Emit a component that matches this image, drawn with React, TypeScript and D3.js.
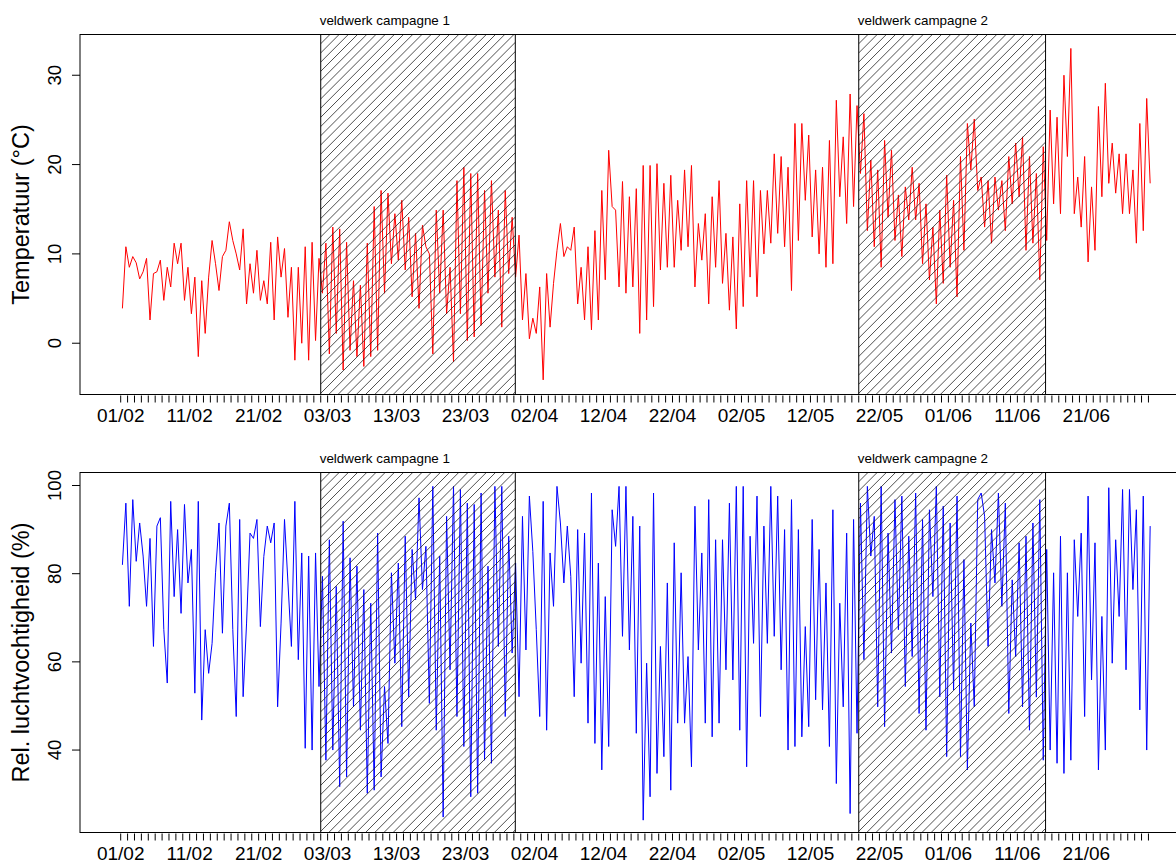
import * as d3 from "d3";

// half-daily readings (06:00 and 18:00) starting 01/02
const DAY = 86400000;
const startDate = Date.UTC(2019, 1, 1);

const tempFeb = [
  3.9, 10.8, 8.5, 9.7, 9.0, 7.2, 8.0, 9.5, 2.6, 7.8, 8.0, 9.3, 4.8, 8.5, 6.3, 11.2,
  8.9, 11.2, 4.8, 8.5, 3.3, 7.4, -1.5, 7.0, 1.1, 7.4, 11.5, 8.9, 5.9, 9.7, 10.4, 13.6,
  11.5, 10.0, 8.2, 12.8, 4.4, 8.9, 5.6, 10.4, 4.8, 7.0, 4.4, 11.3, 2.6, 11.9, 7.4, 10.6,
  2.9, 8.5, -1.9, 8.5, 0.0, 10.8, -1.9, 11.3,
];
const tempMar = [
  0.3, 9.5, 5.6, 11.2, -1.2, 13.0, 1.1, 12.8, -3.0, 11.3, -0.8, 7.0, -1.5, 6.5, -2.6, 11.2,
  -1.5, 15.3, -0.8, 17.1, 5.6, 16.8, 8.9, 14.5, 9.3, 16.0, 8.2, 14.1, 5.2, 12.3, 3.9, 13.2,
  10.8, 10.0, -1.2, 14.9, 5.6, 14.9, 3.3, 8.5, -2.1, 18.2, 3.3, 19.7, 0.3, 19.0, 0.7, 19.0,
  2.0, 17.1, 5.6, 18.2, 7.4, 14.9, 1.8, 17.1, 7.8, 14.1, 7.4, 12.1, 2.6, 7.8,
];
const tempApr = [
  0.5, 2.8, 1.1, 6.3, -4.1, 7.8, 1.8, 6.7, 10.4, 13.4, 9.7, 10.8, 10.4, 13.0, 4.4, 8.5,
  2.6, 10.8, 1.5, 12.6, 2.6, 17.1, 7.1, 21.6, 15.3, 14.9, 6.3, 18.1, 5.6, 16.4, 6.3, 17.3,
  1.1, 19.9, 2.6, 19.9, 4.1, 20.1, 8.2, 17.9, 8.5, 18.8, 8.5, 16.0, 10.4, 19.4, 10.8, 19.9,
  6.3, 13.4, 9.3, 14.5, 4.4, 16.4, 8.5, 18.2, 6.7, 12.3, 3.7, 11.9,
];
const tempMay = [
  1.6, 15.6, 4.1, 18.2, 7.4, 18.2, 5.2, 17.1, 10.0, 17.1, 11.2, 21.2, 12.3, 20.9, 10.8, 19.7,
  5.9, 24.6, 11.5, 24.6, 16.0, 23.3, 11.9, 19.4, 10.0, 19.7, 8.5, 22.7, 8.9, 27.2, 16.4, 23.1,
  13.4, 27.9, 15.3, 26.6, 19.0, 25.7, 12.6, 20.5, 10.8, 19.4, 8.5, 22.7, 14.1, 21.6, 11.5, 16.6,
  9.7, 17.5, 13.8, 19.7, 13.8, 17.9, 8.9, 15.6, 7.1, 13.0, 4.4, 14.9, 6.7, 18.8,
];
const tempJun = [
  8.5, 16.0, 5.2, 20.9, 10.4, 24.6, 19.4, 25.1, 17.1, 18.6, 13.0, 18.2, 11.2, 18.6, 14.9, 18.2,
  12.6, 20.9, 15.6, 22.4, 16.4, 23.1, 10.4, 20.9, 11.2, 19.0, 7.1, 22.0, 11.5, 26.1, 15.6, 25.3,
  14.5, 30.0, 20.9, 33.0, 14.5, 18.6, 13.0, 20.9, 9.1, 17.5, 10.4, 26.5, 16.4, 29.1, 17.9, 22.4,
  16.8, 21.2, 14.5, 21.2, 14.5, 19.4, 11.2, 24.6, 12.6, 27.4, 17.9,
];

const humFeb = [
  82, 96, 72.6, 96.8, 82.8, 91.5, 84, 72.6, 88, 63.5, 90.8, 92.7, 67.3, 55.2, 96.4, 74.8,
  90, 71, 95.7, 77.9, 85.5, 52.9, 96.4, 46.8, 67.3, 57.4, 64.2, 80.2, 91.5, 66.5, 90.8, 96,
  67.3, 47.6, 92.3, 52.1, 68.8, 89.2, 88, 92.3, 68, 83.9, 90.8, 87, 91.5, 49.8, 68.8, 92.3,
  77.9, 63.5, 96.4, 60.5, 84.7, 40.4, 84, 40,
];
const humMar = [
  84.7, 54.4, 79.4, 37.7, 87.7, 40, 77.1, 31.7, 91.9, 33.9, 83.6, 49.8, 81.7, 44.5, 76.4, 30.2,
  73.3, 30.9, 89.2, 33.9, 54.4, 41.5, 80.2, 59.7, 82.4, 45.3, 88.5, 52.1, 85.5, 74.1, 97.2, 76.4,
  86.2, 50.6, 99.8, 44.5, 84, 24.8, 93, 58.2, 99.8, 47.6, 99.1, 40.8, 96, 29.4, 95.7, 30.2,
  98.3, 37.7, 81.7, 37, 99.8, 63.5, 99.8, 47.6, 88.5, 62, 82.4, 52.1, 93, 62.7,
];
const humApr = [
  97.6, 85, 67.3, 47.6, 96.4, 44.5, 84.7, 72.6, 99.8, 91.5, 77.9, 90.8, 79.4, 52.1, 90, 59.7,
  89.2, 46.1, 98.3, 41.5, 82.4, 35.5, 74.8, 40.8, 94.5, 86.2, 99.8, 65.8, 99.8, 62.7, 93, 43.8,
  90.8, 24.1, 59.7, 29.4, 98.3, 34.7, 63.5, 38.5, 77.9, 30.9, 87, 46.1, 80.2, 46.1, 61.2, 36.2,
  95.3, 62.7, 84.7, 46.1, 96.8, 43, 87.7, 46.1, 87.7, 58.2, 96, 55.9,
];
const humMay = [
  99.8, 44.5, 99.8, 36.2, 88.5, 64.2, 97.6, 47.6, 90.8, 64.2, 99.8, 65.8, 97.6, 58.2, 90, 40,
  96.8, 40.8, 90, 43, 68, 45.3, 92.3, 51.4, 85.5, 49.1, 77.9, 40.8, 94.5, 32.4, 73.3, 49.8,
  89.2, 25.6, 92.3, 43.8, 96, 60.5, 99.8, 84, 93, 49.8, 99.8, 45.3, 89.2, 62, 96.8, 67.3,
  97.6, 54.4, 88.5, 61.2, 98.3, 48.3, 92.3, 44.5, 94.5, 74.8, 99.8, 52.1, 95.3, 38.5,
];
const humJun = [
  91.5, 53.6, 97.6, 38.5, 83.2, 35.5, 68.8, 49.8, 96.8, 98.3, 93, 63.5, 90, 77.9, 98.3, 72.6,
  96, 48.3, 78.6, 61.2, 87, 49.8, 88.5, 44.5, 91.5, 52, 96.8, 37.7, 85.5, 40, 80.2, 37,
  88.5, 34.7, 80.2, 37.7, 87.7, 70.3, 89.2, 47.6, 97.6, 55.9, 87, 35.5, 70.3, 40, 99.5, 59.7,
  87.7, 70.3, 99.1, 58.2, 99.1, 76.4, 94.5, 49.1, 97.6, 40, 90.8,
];

const temperature = [...tempFeb, ...tempMar, ...tempApr, ...tempMay, ...tempJun];
const humidity = [...humFeb, ...humMar, ...humApr, ...humMay, ...humJun];

const campaigns = [
  { label: "veldwerk campagne 1", from: Date.UTC(2019, 2, 2), to: Date.UTC(2019, 2, 30, 5) },
  { label: "veldwerk campagne 2", from: Date.UTC(2019, 4, 19), to: Date.UTC(2019, 5, 15, 2) },
];

const tempTicks = [0, 10, 20, 30];
const humTicks = [40, 60, 80, 100];
const dayCount = 150;

const FONT = "'Liberation Sans', Arial, sans-serif";
const W = 1176;
const H = 863;

const x = d3
  .scaleUtc()
  .domain([startDate - 5.9 * DAY, startDate + 154.3 * DAY])
  .range([80, 1185]);

const timeOf = (i: number) => startDate + (0.25 + 0.5 * i) * DAY;
const fmt = d3.utcFormat("%d/%m");

type PanelProps = {
  id: string;
  top: number;
  bottom: number;
  values: number[];
  domain: [number, number];
  ticks: number[];
  color: string;
  title: string;
};

function Panel({ id, top, bottom, values, domain, ticks, color, title }: PanelProps) {
  const y = d3.scaleLinear().domain(domain).range([bottom, top]);
  const line = d3
    .line<number>()
    .x((_, i) => x(timeOf(i)))
    .y(d => y(d));

  const days = d3.range(dayCount).map(d => startDate + d * DAY);
  const left = x.range()[0];
  const right = x.range()[1];
  const h = bottom - top;

  return (
    <g>
      <path d={line(values) ?? ""} fill="none" stroke={color} strokeWidth={1} />

      {campaigns.map((c, k) => {
        const xa = x(c.from);
        const xb = x(c.to);
        const starts = d3.range(xa - h - 9.2, xb + 9.2, 9.2);
        return (
          <g key={k}>
            <clipPath id={`${id}-clip-${k}`}>
              <rect x={xa} y={top} width={xb - xa} height={h} />
            </clipPath>
            <g clipPath={`url(#${id}-clip-${k})`}>
              {starts.map((s, j) => (
                <line key={j} x1={s} y1={bottom} x2={s + h} y2={top} stroke="#222" strokeWidth={0.8} />
              ))}
            </g>
            <rect x={xa} y={top} width={xb - xa} height={h} fill="none" stroke="#000" strokeWidth={1} />
            <text x={xa - 1} y={top - 10} fontSize={13.4} fontFamily={FONT} fill="#000">
              {c.label}
            </text>
          </g>
        );
      })}

      <rect x={left} y={top} width={right - left} height={h} fill="none" stroke="#000" strokeWidth={1} />

      {days.map((d, i) => (
        <line key={i} x1={x(d)} x2={x(d)} y1={bottom + 1} y2={bottom + 8} stroke="#000" strokeWidth={1} />
      ))}
      {days
        .filter((_, i) => i % 10 === 0)
        .map((d, i) => (
          <text key={i} x={x(d)} y={bottom + 27.5} textAnchor="middle" fontSize={19} fontFamily={FONT} fill="#000">
            {fmt(new Date(d))}
          </text>
        ))}

      {ticks.map(t => (
        <g key={t}>
          <line x1={left - 8} x2={left} y1={y(t)} y2={y(t)} stroke="#000" strokeWidth={1} />
          <text
            transform={`translate(61,${y(t)}) rotate(-90)`}
            textAnchor="middle"
            fontSize={18.5}
            fontFamily={FONT}
            fill="#000"
          >
            {t}
          </text>
        </g>
      ))}

      <text
        transform={`translate(29,${(top + bottom) / 2}) rotate(-90)`}
        textAnchor="middle"
        fontSize={23.5}
        fontFamily={FONT}
        fill="#000"
      >
        {title}
      </text>
    </g>
  );
}

export default function App() {
  return (
    <svg
      width={W}
      height={H}
      style={{ position: "absolute", left: 0, top: 0, background: "#fff" }}
    >
      <rect width={W} height={H} fill="#fff" />
      <Panel
        id="t"
        top={34.5}
        bottom={394.5}
        values={temperature}
        domain={[-5.74, 34.56]}
        ticks={tempTicks}
        color="#ff0000"
        title="Temperatuur (°C)"
      />
      <Panel
        id="h"
        top={472.5}
        bottom={832.5}
        values={humidity}
        domain={[21.3, 102.95]}
        ticks={humTicks}
        color="#0000ff"
        title="Rel. luchtvochtigheid (%)"
      />
    </svg>
  );
}
